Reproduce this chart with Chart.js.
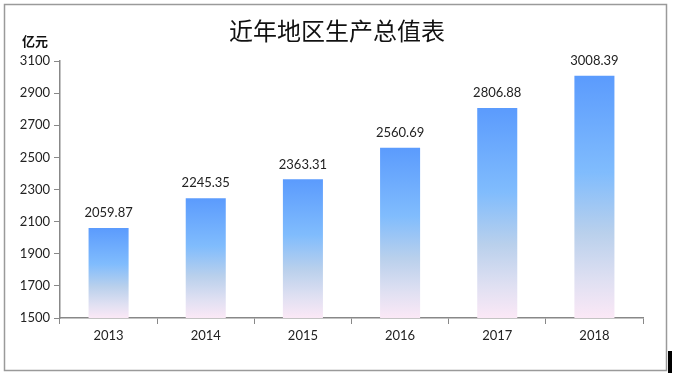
<!DOCTYPE html>
<html>
<head>
<meta charset="utf-8">
<script src="https://cdn.jsdelivr.net/npm/chart.js@4.4.1/dist/chart.umd.min.js"></script>
<style>
  html, body { margin: 0; padding: 0; background: #fff; }
  #wrap { width: 675px; height: 378px; position: relative; }
</style>
</head>
<body>
<div id="wrap"><canvas id="gdpChart" width="675" height="378"></canvas></div>
<script>
const years = ['2013', '2014', '2015', '2016', '2017', '2018'];
const gdpValues = [2059.87, 2245.35, 2363.31, 2560.69, 2806.88, 3008.39];
const yTicks = [1500, 1700, 1900, 2100, 2300, 2500, 2700, 2900, 3100];

const chartTitle = '近年地区生产总值表';
const unitLabel = '亿元';
const font = 'Lato, "Noto Sans", sans-serif';

// gradient per bar, from its top down to the axis
function barGradient(context) {
    const chart = context.chart;
    const yScale = chart.scales.y;
    if (!yScale || !chart.chartArea) return '#6aa8fd';
    const value = context.raw;
    const top = yScale.getPixelForValue(value);
    const bottom = yScale.getPixelForValue(yScale.min);
    if (!isFinite(top) || !isFinite(bottom) || top === bottom) return '#6aa8fd';
    const g = chart.ctx.createLinearGradient(0, top, 0, bottom);
    g.addColorStop(0, '#5b9bfd');
    g.addColorStop(0.4, '#80bcfd');
    g.addColorStop(0.65, '#b9d0ec');
    g.addColorStop(0.85, '#e0e0f2');
    g.addColorStop(1, '#fbe8f6');
    return g;
}

const decorPlugin = {
    id: 'decor',
    afterDatasetsDraw(chart) {
        const ctx = chart.ctx;
        const meta = chart.getDatasetMeta(0);
        ctx.save();
        // value labels above bars
        ctx.fillStyle = '#222';
        ctx.font = '13px ' + font;
        ctx.textAlign = 'center';
        ctx.textBaseline = 'middle';
        meta.data.forEach((bar, i) => {
            ctx.fillText(gdpValues[i].toFixed(2), bar.x, bar.y - 15);
        });
        // title
        ctx.font = '400 24px "Noto Sans CJK SC", sans-serif';
        ctx.fillStyle = '#111';
        ctx.fillText(chartTitle, 337, 31);
        // unit
        ctx.font = 'bold 13px "Noto Sans CJK SC", sans-serif';
        ctx.fillText(unitLabel, 35, 41);
        // outer frame
        ctx.strokeStyle = '#9a9a9a';
        ctx.lineWidth = 1.5;
        ctx.strokeRect(4.5, 4.5, 662, 366);
        ctx.fillStyle = '#000';
        ctx.fillRect(668, 351, 4, 22);
        ctx.restore();
    }
};

new Chart(document.getElementById('gdpChart').getContext('2d'), {
    type: 'bar',
    data: {
        labels: years,
        datasets: [{
            data: gdpValues,
            backgroundColor: barGradient,
            borderWidth: 0,
            categoryPercentage: 1,
            barPercentage: 0.412
        }]
    },
    options: {
        responsive: false,
        animation: false,
        layout: {
            padding: { left: 8, right: 32, top: 61, bottom: 28 }
        },
        plugins: {
            legend: { display: false },
            title: { display: false },
            tooltip: { enabled: false }
        },
        scales: {
            x: {
                grid: {
                    display: true,
                    drawOnChartArea: false,
                    drawTicks: true,
                    tickLength: 6,
                    color: '#888',
                    offset: true
                },
                border: { color: '#888', width: 1.5 },
                ticks: {
                    color: '#222',
                    font: { family: font, size: 13 },
                    padding: 4
                },
                afterFit: s => { s.height = 32; }
            },
            y: {
                min: yTicks[0],
                max: yTicks[yTicks.length - 1],
                afterBuildTicks: s => { s.ticks = yTicks.map(v => ({ value: v })); },
                grid: {
                    display: true,
                    drawOnChartArea: false,
                    drawTicks: true,
                    tickLength: 6,
                    color: '#888'
                },
                border: { color: '#888', width: 1.5 },
                ticks: {
                    color: '#222',
                    font: { family: font, size: 13 },
                    padding: 4,
                    callback: v => String(v)
                },
                afterFit: s => { s.width = 52; }
            }
        }
    },
    plugins: [decorPlugin]
});
</script>
</body>
</html>
